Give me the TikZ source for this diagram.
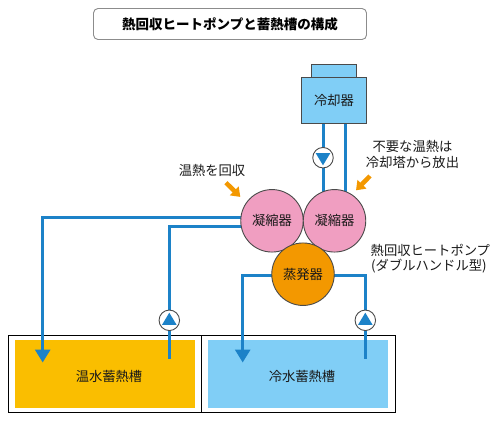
\documentclass[tikz,border=0pt]{standalone}
\usepackage{fontspec}
\setmainfont{Noto Sans CJK JP}
\usetikzlibrary{arrows.meta,calc}
\definecolor{pipeblue}{HTML}{1C82C8}
\definecolor{skyfill}{HTML}{80CEF6}
\definecolor{pinkfill}{HTML}{F09EC1}
\definecolor{orangefill}{HTML}{F39800}
\definecolor{yellowfill}{HTML}{FABE00}
\definecolor{edgegray}{HTML}{4A4A4A}
\pgfdeclarelayer{bg}
\pgfdeclarelayer{pipes}
\pgfsetlayers{bg,pipes,main}
\tikzset{
  x=1pt,y=-1pt,
  txt/.style={inner sep=0pt,font=\fontsize{13.3}{15}\selectfont,text=black!90},
  lefttxt/.style={txt,anchor=west},
  pipe/.style={draw=pipeblue,line width=3pt},
  pipearrow/.style={pipe,-{Triangle[length=13pt,width=15pt]}},
  ball/.style={circle,draw=edgegray,line width=0.9pt,minimum size=62.5pt,inner sep=0pt,txt},
  pumpbase/.style={circle,draw=edgegray,line width=0.9pt,fill=white,minimum size=20.5pt,inner sep=0pt},
  pumpup/.style={pumpbase,path picture={\fill[pipeblue]
     ([shift={(-7.3pt,-4.6pt)}]path picture bounding box.center) --
     ([shift={(7.3pt,-4.6pt)}]path picture bounding box.center) --
     ([shift={(0pt,7.6pt)}]path picture bounding box.center) -- cycle;}},
  pumpdown/.style={pumpbase,path picture={\fill[pipeblue]
     ([shift={(-7.3pt,4.6pt)}]path picture bounding box.center) --
     ([shift={(7.3pt,4.6pt)}]path picture bounding box.center) --
     ([shift={(0pt,-7.6pt)}]path picture bounding box.center) -- cycle;}},
  callout/.style={draw=orangefill,line width=4.5pt,-{Triangle[length=8.5pt,width=12pt]}},
}
\begin{document}
\begin{tikzpicture}
\useasboundingbox (0,0) rectangle (500,421);
% title
\node[draw=black!45,line width=0.9pt,rounded corners=4.5pt,minimum width=273pt,minimum height=31pt,inner sep=0pt] (title) at (230,24) {\fontsize{13.5}{15}\selectfont\bfseries 熱回収ヒートポンプと蓄熱槽の構成};
% tanks
\begin{pgfonlayer}{bg}
\draw[black,line width=0.9pt] (8.3,335.7) rectangle (201.7,412.3);
\draw[black,line width=0.9pt] (201.7,335.7) rectangle (395,412.3);
\node[fill=yellowfill,minimum width=179.7pt,minimum height=67.4pt,inner sep=0pt,txt] (hot) at (104.85,374) {};
\node[fill=skyfill,minimum width=179.4pt,minimum height=67.4pt,inner sep=0pt,txt] (cold) at (298,374) {};
\end{pgfonlayer}
\node[txt] (hotlabel) at (109,376) {温水蓄熱槽};
\node[txt] (coldlabel) at (302,376) {冷水蓄熱槽};
% cooler
\node[draw=edgegray,line width=0.9pt,fill=skyfill,minimum width=45pt,minimum height=13pt,inner sep=0pt] (cap) at (334,71.2) {};
\node[draw=edgegray,line width=0.9pt,fill=skyfill,minimum width=65pt,minimum height=46pt,inner sep=0pt,txt] (cooler) at (334,100.7) {冷却器};
% machines
\node[ball,fill=pinkfill] (lc) at (272,220.8) {凝縮器};
\node[ball,fill=pinkfill] (rc) at (334.5,220.8) {凝縮器};
\node[ball,fill=orangefill] (ev) at (303,274.2) {蒸発器};
% pumps
\node[pumpdown] (p1) at (323,157.7) {};
\node[pumpup] (p2) at (169.3,320.3) {};
\node[pumpup] (p3) at (365.3,320.3) {};
% free ends
\coordinate (c1) at (42.7,217.7);
\coordinate (e1) at (42.7,362.5);
\coordinate (c2) at (169.3,226.3);
\coordinate (e2) at (169.3,358.5);
\coordinate (c3) at (242.7,275);
\coordinate (e3) at (242.7,362.5);
\coordinate (c4) at (365.3,275);
\coordinate (e4) at (365.3,358.5);
\coordinate (c5) at (323,123.7);
\coordinate (c6) at (345.3,123.7);
\begin{pgfonlayer}{pipes}
\draw[pipe] (c5) -- (c5 |- rc);
\draw[pipe] (c6) -- (c6 |- rc);
\draw[pipearrow] (lc |- c1) -- (c1) -- (e1);
\draw[pipe] (lc |- c2) -- (c2) -- (e2);
\draw[pipearrow] (ev |- c3) -- (c3) -- (e3);
\draw[pipe] (ev |- c4) -- (c4) -- (e4);
\end{pgfonlayer}
% callouts
\coordinate (a1s) at (226,182.7);
\coordinate (a1e) at (240.3,196.9);
\coordinate (a2s) at (370,176);
\coordinate (a2e) at (356,190.3);
\draw[callout] (a1s) -- (a1e);
\draw[callout] (a2s) -- (a2e);
% labels
\node[txt] (t1) at (412.5,146.7) {不要な温熱は};
\node[txt] (t2) at (412.5,162.7) {冷却塔から放出};
\node[txt] (t3) at (212,170.7) {温熱を回収};
\node[lefttxt] (t4) at (370.5,250) {熱回収ヒートポンプ};
\node[lefttxt] (t5) at (371,265.7) {(ダブルハンドル型)};
\end{tikzpicture}
\end{document}
